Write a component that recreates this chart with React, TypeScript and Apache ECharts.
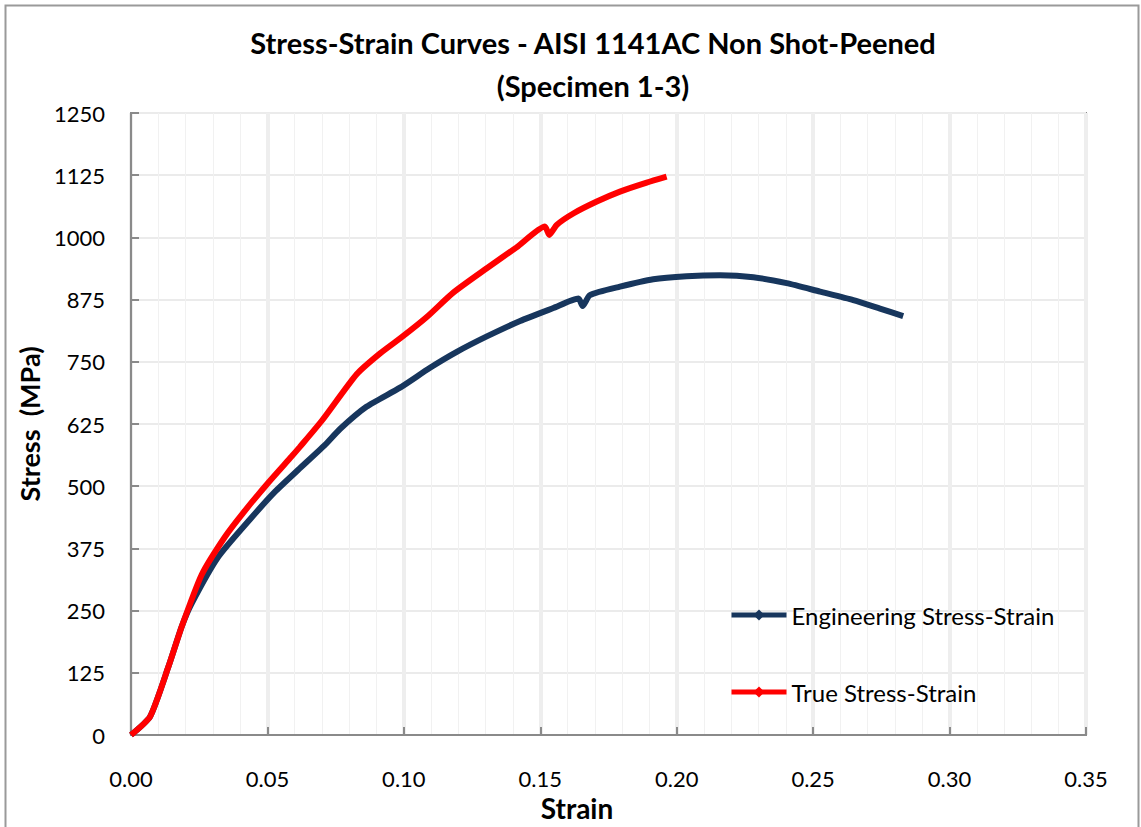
import React, { useEffect, useRef } from "react";
import * as echarts from "echarts";

const engStrain = [0, 0.007, 0.0137, 0.0186, 0.0222, 0.032, 0.0442, 0.0528, 0.0613, 0.0711, 0.0766, 0.0864, 0.0986, 0.1096, 0.1194, 0.1304, 0.1426, 0.1548, 0.164, 0.1655, 0.1682, 0.1792, 0.1914, 0.2036, 0.2159, 0.2281, 0.2403, 0.2525, 0.2647, 0.2745, 0.283];
const engStress = [0, 37, 137, 218, 264, 358, 437, 489, 533, 583, 615, 660, 698, 738, 770, 801, 832, 858, 877, 862, 884, 901, 916, 922, 924, 920, 908, 891, 874, 857, 842];

const trueStrain = [0, 0.007, 0.0137, 0.0186, 0.0259, 0.0344, 0.0412, 0.0503, 0.0589, 0.0619, 0.07, 0.0827, 0.0913, 0.0998, 0.1084, 0.1181, 0.1304, 0.1413, 0.1517, 0.1533, 0.156, 0.1621, 0.1707, 0.1792, 0.189, 0.1963];
const trueStress = [0, 37, 137, 218, 322, 398, 447, 507, 560, 579, 632, 725, 767, 802, 840, 889, 938, 980, 1022, 1005, 1025, 1048, 1072, 1092, 1110, 1122];

const xTicks = [0, 0.05, 0.1, 0.15, 0.2, 0.25, 0.3, 0.35];
const yTicks = [0, 125, 250, 375, 500, 625, 750, 875, 1000, 1125, 1250];

const FONT = "Lato, 'Open Sans', sans-serif";
const AXIS_GRAY = "#8a8a8a";

export default function App() {
  const ref = useRef<HTMLDivElement>(null);
  useEffect(() => {
    document.body.style.margin = "0";
    if (!ref.current) return;
    const chart = echarts.init(ref.current, undefined, { renderer: "svg" });
    const eng = engStrain.map((x, i) => [x, engStress[i]]);
    const tru = trueStrain.map((x, i) => [x, trueStress[i]]);
    chart.setOption({
      animation: false,
      backgroundColor: "#ffffff",
      textStyle: { fontFamily: FONT },
      title: {
        text: "Stress-Strain Curves - AISI 1141AC Non Shot-Peened\n(Specimen 1-3)",
        left: 588,
        textAlign: "center",
        top: 16,
        textStyle: { fontFamily: FONT, fontSize: 29, fontWeight: "bold", color: "#000", lineHeight: 43 },
      },
      graphic: [
        {
          type: "rect",
          shape: { x: 5.5, y: 5.5, width: 1133, height: 840 },
          style: { fill: "none", stroke: "#9a9a9a", lineWidth: 2 },
          silent: true,
          z: -1,
        },
        {
          type: "text",
          x: 577,
          y: 808,
          style: {
            text: "Strain",
            fontFamily: FONT,
            fontSize: 28,
            fontWeight: "bold",
            fill: "#000",
            align: "center",
            verticalAlign: "middle",
          },
          silent: true,
        },
      ],
      legend: {
        left: 729,
        top: 602,
        padding: 0,
        orient: "vertical",
        itemWidth: 55,
        itemHeight: 14,
        itemGap: 51,
        lineStyle: { width: 5 },
        textStyle: { fontFamily: FONT, fontSize: 24, color: "#000", lineHeight: 26 },
        data: ["Engineering Stress-Strain", "True Stress-Strain"],
      },
      grid: {
        left: 131,
        top: 113,
        width: 955,
        height: 622,
        show: true,
        borderColor: AXIS_GRAY,
        borderWidth: 2,
        backgroundColor: "transparent",
      },
      xAxis: {
        type: "value",
        min: xTicks[0],
        max: xTicks[xTicks.length - 1],
        interval: 0.05,
        axisLine: { lineStyle: { color: AXIS_GRAY, width: 2 } },
        axisTick: { inside: true, length: 8, lineStyle: { color: AXIS_GRAY, width: 2 } },
        axisLabel: {
          margin: 32,
          fontFamily: FONT,
          fontSize: 22,
          color: "#000",
          formatter: (v: number) => v.toFixed(2),
        },
        splitLine: { show: true, lineStyle: { color: "#eeeeee", width: 4 } },
        minorTick: { show: false, splitNumber: 5 },
        minorSplitLine: { show: true, lineStyle: { color: "#f1f1f1", width: 1 } },
      },
      yAxis: {
        type: "value",
        min: yTicks[0],
        max: yTicks[yTicks.length - 1],
        interval: 125,
        name: "Stress  (MPa)",
        nameLocation: "middle",
        nameGap: 88,
        nameTextStyle: { fontFamily: FONT, fontSize: 27, fontWeight: "bold", color: "#000" },
        axisLine: { show: true, lineStyle: { color: AXIS_GRAY, width: 2 } },
        axisTick: { show: true, inside: true, length: 8, lineStyle: { color: AXIS_GRAY, width: 2 } },
        axisLabel: {
          margin: 26,
          fontFamily: FONT,
          fontSize: 22,
          color: "#000",
          formatter: (v: number) => String(v),
        },
        splitLine: { show: true, lineStyle: { color: "#ebebeb", width: 2 } },
      },
      series: [
        {
          name: "Engineering Stress-Strain",
          type: "line",
          data: eng,
          showSymbol: false,
          symbol: "diamond",
          symbolSize: 7,
          smooth: 0.2,
          color: "#17365d",
          lineStyle: { width: 6, color: "#17365d" },
          z: 2,
        },
        {
          name: "True Stress-Strain",
          type: "line",
          data: tru,
          showSymbol: false,
          symbol: "diamond",
          symbolSize: 7,
          smooth: 0.2,
          color: "#ff0000",
          lineStyle: { width: 6, color: "#ff0000" },
          z: 3,
        },
      ],
    });
    return () => chart.dispose();
  }, []);
  return <div ref={ref} style={{ width: 1141, height: 827 }} />;
}
